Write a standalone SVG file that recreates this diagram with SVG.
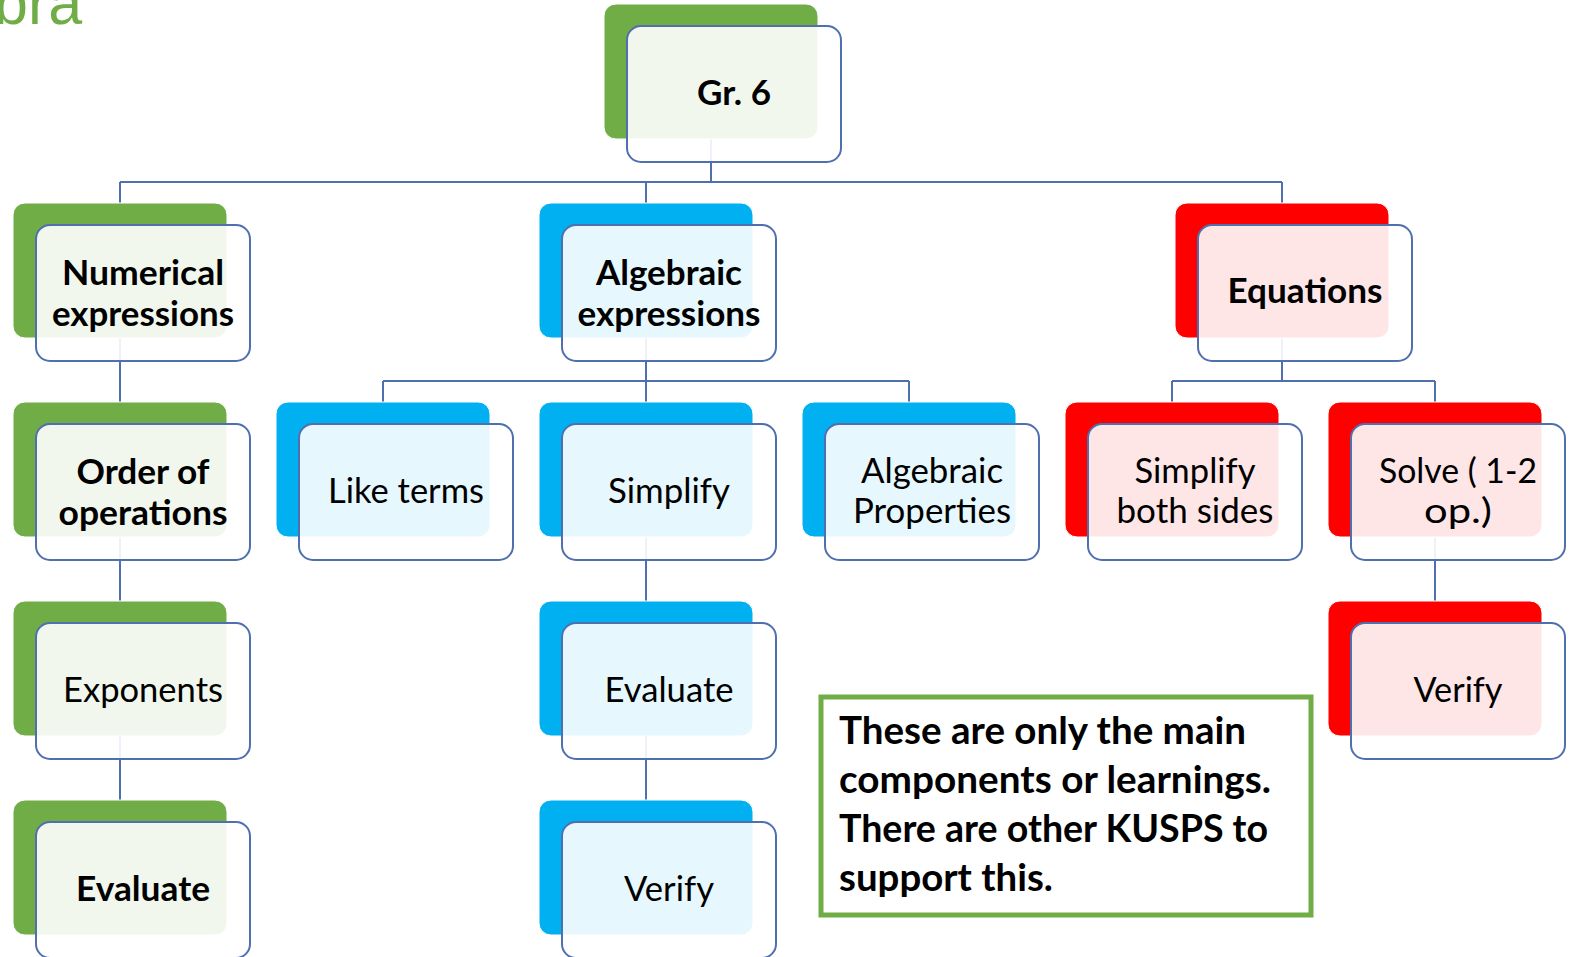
<svg xmlns="http://www.w3.org/2000/svg" width="1573" height="957" viewBox="0 0 1573 957">
<style>
.bk{stroke:#ffffff;stroke-width:1}
.g{fill:#70AD47}
.b{fill:#00B0F0}
.r{fill:#FF0000}
.fr{fill:#ffffff;fill-opacity:0.9;stroke:#4F6FAF;stroke-width:2}
.t{font-family:Lato,"Open Sans","Liberation Sans",sans-serif;font-size:34px;fill:#000000;text-anchor:middle}
.tb{font-weight:bold}
.con{fill:none;stroke:#4F6FAF;stroke-width:2}
.note{font-family:Lato,"Open Sans","Liberation Sans",sans-serif;font-size:38px;font-weight:bold;fill:#000000}
</style>
<rect x="0" y="0" width="1573" height="957" fill="#ffffff"/>
<text x="-6" y="24" font-family="'Liberation Sans',Arial,sans-serif" font-size="61" fill="#70AD47">bra</text>
<g id="connectors" class="con">
<path d="M711 100V182M120 182H1282M120 182V203M646 182V203M1282 182V203"/>
<path d="M120 270V402M120 470V601M120 670V800"/>
<path d="M646 270V381M383 381H909M383 381V402M646 381V402M909 381V402"/>
<path d="M646 470V601M646 670V800"/>
<path d="M1282 270V381M1172 381H1435M1172 381V402M1435 381V402"/>
<path d="M1435 470V601"/>
</g>
<g id="gr6"><rect class="bk g" x="604" y="4" width="214" height="135" rx="12"/><rect class="fr" x="627" y="26" width="214" height="136" rx="14"/><text class="t tb" x="734" y="105" textLength="74" lengthAdjust="spacingAndGlyphs">Gr. 6</text></g>
<g id="numerical"><rect class="bk g" x="13" y="203" width="214" height="135" rx="12"/><rect class="fr" x="36" y="225" width="214" height="136" rx="14"/><text class="t tb" x="143" y="285" textLength="162" lengthAdjust="spacingAndGlyphs">Numerical</text><text class="t tb" x="143" y="326" textLength="182" lengthAdjust="spacingAndGlyphs">expressions</text></g>
<g id="algebraic"><rect class="bk b" x="539" y="203" width="214" height="135" rx="12"/><rect class="fr" x="562" y="225" width="214" height="136" rx="14"/><text class="t tb" x="669" y="285" textLength="146" lengthAdjust="spacingAndGlyphs">Algebraic</text><text class="t tb" x="669" y="326" textLength="183" lengthAdjust="spacingAndGlyphs">expressions</text></g>
<g id="equations"><rect class="bk r" x="1175" y="203" width="214" height="135" rx="12"/><rect class="fr" x="1198" y="225" width="214" height="136" rx="14"/><text class="t tb" x="1305" y="303" textLength="155" lengthAdjust="spacingAndGlyphs">Equations</text></g>
<g id="order"><rect class="bk g" x="13" y="402" width="214" height="135" rx="12"/><rect class="fr" x="36" y="424" width="214" height="136" rx="14"/><text class="t tb" x="143" y="484" textLength="133" lengthAdjust="spacingAndGlyphs">Order of</text><text class="t tb" x="143" y="525" textLength="169" lengthAdjust="spacingAndGlyphs">operations</text></g>
<g id="liketerms"><rect class="bk b" x="276" y="402" width="214" height="135" rx="12"/><rect class="fr" x="299" y="424" width="214" height="136" rx="14"/><text class="t" x="406" y="503" textLength="156" lengthAdjust="spacingAndGlyphs">Like terms</text></g>
<g id="simplify"><rect class="bk b" x="539" y="402" width="214" height="135" rx="12"/><rect class="fr" x="562" y="424" width="214" height="136" rx="14"/><text class="t" x="669" y="503" textLength="122" lengthAdjust="spacingAndGlyphs">Simplify</text></g>
<g id="properties"><rect class="bk b" x="802" y="402" width="214" height="135" rx="12"/><rect class="fr" x="825" y="424" width="214" height="136" rx="14"/><text class="t" x="932" y="483" textLength="142" lengthAdjust="spacingAndGlyphs">Algebraic</text><text class="t" x="932" y="523" textLength="158" lengthAdjust="spacingAndGlyphs">Properties</text></g>
<g id="simplifyboth"><rect class="bk r" x="1065" y="402" width="214" height="135" rx="12"/><rect class="fr" x="1088" y="424" width="214" height="136" rx="14"/><text class="t" x="1195" y="483" textLength="121" lengthAdjust="spacingAndGlyphs">Simplify</text><text class="t" x="1195" y="523" textLength="157" lengthAdjust="spacingAndGlyphs">both sides</text></g>
<g id="solve"><rect class="bk r" x="1328" y="402" width="214" height="135" rx="12"/><rect class="fr" x="1351" y="424" width="214" height="136" rx="14"/><text class="t" x="1458" y="483" textLength="158" lengthAdjust="spacingAndGlyphs">Solve ( 1-2</text><text class="t" x="1458" y="523" textLength="68" lengthAdjust="spacingAndGlyphs">op.)</text></g>
<g id="exponents"><rect class="bk g" x="13" y="601" width="214" height="135" rx="12"/><rect class="fr" x="36" y="623" width="214" height="136" rx="14"/><text class="t" x="143" y="702" textLength="160" lengthAdjust="spacingAndGlyphs">Exponents</text></g>
<g id="evaluateA"><rect class="bk b" x="539" y="601" width="214" height="135" rx="12"/><rect class="fr" x="562" y="623" width="214" height="136" rx="14"/><text class="t" x="669" y="702" textLength="129" lengthAdjust="spacingAndGlyphs">Evaluate</text></g>
<g id="verifyE"><rect class="bk r" x="1328" y="601" width="214" height="135" rx="12"/><rect class="fr" x="1351" y="623" width="214" height="136" rx="14"/><text class="t" x="1458" y="702" textLength="89" lengthAdjust="spacingAndGlyphs">Verify</text></g>
<g id="evaluateN"><rect class="bk g" x="13" y="800" width="214" height="135" rx="12"/><rect class="fr" x="36" y="822" width="214" height="136" rx="14"/><text class="t tb" x="143" y="901" textLength="134" lengthAdjust="spacingAndGlyphs">Evaluate</text></g>
<g id="verifyA"><rect class="bk b" x="539" y="800" width="214" height="135" rx="12"/><rect class="fr" x="562" y="822" width="214" height="136" rx="14"/><text class="t" x="669" y="901" textLength="90" lengthAdjust="spacingAndGlyphs">Verify</text></g>
<g id="note">
<rect x="821" y="697" width="490" height="218" fill="#ffffff" stroke="#70AD47" stroke-width="5"/>
<text class="note" x="839" y="744" textLength="407" lengthAdjust="spacingAndGlyphs">These are only the main</text>
<text class="note" x="839" y="793" textLength="432" lengthAdjust="spacingAndGlyphs">components or learnings.</text>
<text class="note" x="839" y="842" textLength="429" lengthAdjust="spacingAndGlyphs">There are other KUSPS to</text>
<text class="note" x="839" y="891" textLength="214" lengthAdjust="spacingAndGlyphs">support this.</text>
</g>
</svg>
